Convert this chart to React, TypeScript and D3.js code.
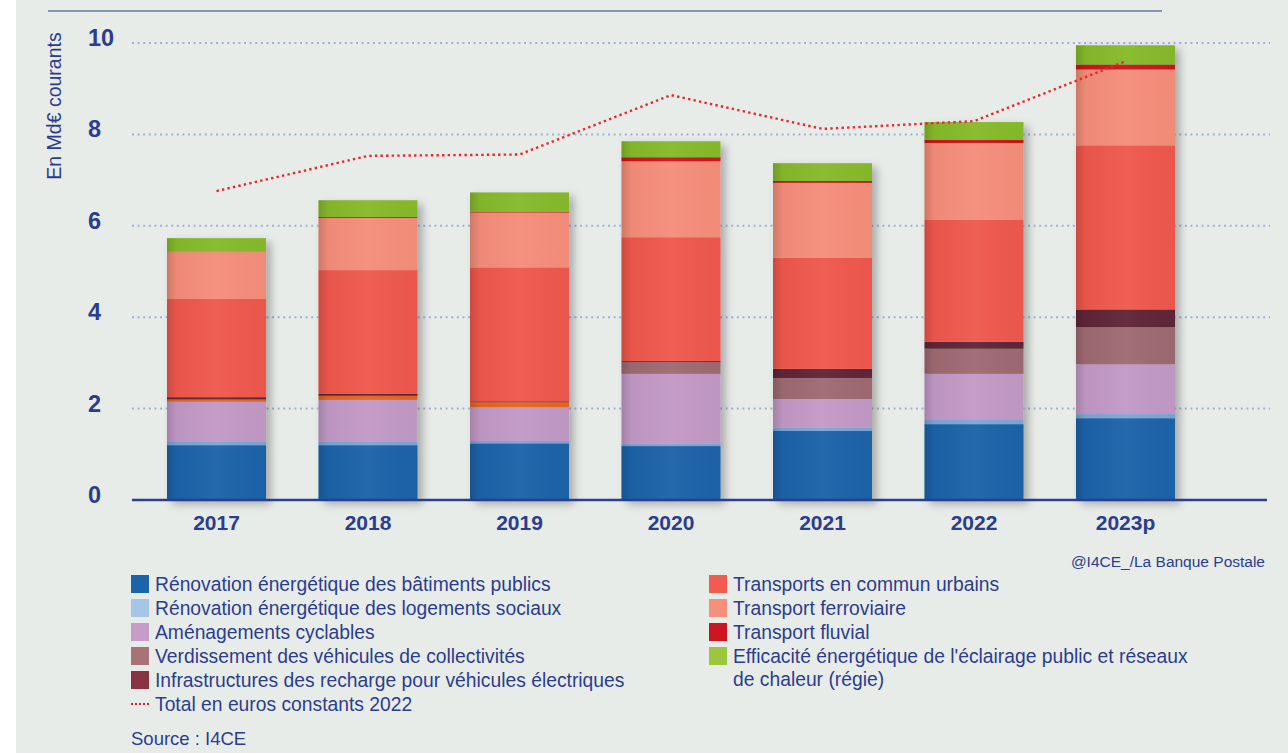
import React from 'react';
import * as d3 from 'd3';

const years = ['2017', '2018', '2019', '2020', '2021', '2022', '2023p'];
const batiments = [1.2, 1.2, 1.24, 1.18, 1.51, 1.66, 1.79];
const logements = [0.07, 0.07, 0.05, 0.05, 0.07, 0.09, 0.09];
const cyclables = [0.88, 0.92, 0.74, 1.53, 0.63, 1.01, 1.09];
const verdissement = [0, 0, 0, 0.26, 0.46, 0.55, 0.81];
const autre = [0.05, 0.09, 0.11, 0, 0, 0, 0];
const recharge = [0.05, 0.04, 0.02, 0.02, 0.2, 0.15, 0.39];
const urbains = [2.15, 2.71, 2.93, 2.71, 2.43, 2.67, 3.59];
const ferroviaire = [1.03, 1.14, 1.2, 1.66, 1.64, 1.68, 1.66];
const fluvial = [0, 0.02, 0.02, 0.09, 0.04, 0.07, 0.11];
const eclairage = [0.3, 0.37, 0.42, 0.35, 0.39, 0.39, 0.42];
const totalConstant = [6.76, 7.53, 7.56, 8.86, 8.12, 8.29, 9.6];
const yTicks = [0, 2, 4, 6, 8, 10];

const series = [
  { key: 'bat', values: batiments, color: '#1b64a9', legend: '#1b64a9' },
  { key: 'log', values: logements, color: '#7aa6d8', legend: '#a6c5e7' },
  { key: 'cyc', values: cyclables, color: '#c299c6', legend: '#c79cc9' },
  { key: 'ver', values: verdissement, color: '#9f6a72', legend: '#a87276' },
  { key: 'aut', values: autre, color: '#e8651f', legend: '#e8651f' },
  { key: 'rec', values: recharge, color: '#5e2838', legend: '#8a3343' },
  { key: 'urb', values: urbains, color: '#ef594e', legend: '#f25c50' },
  { key: 'fer', values: ferroviaire, color: '#f58e7a', legend: '#f7907b' },
  { key: 'flu', values: fluvial, color: '#c9161e', legend: '#cc1723' },
  { key: 'ecl', values: eclairage, color: '#86ba2c', legend: '#9cc63b' },
];

const leftLegend = [
  { label: 'Rénovation énergétique des bâtiments publics', s: 0 },
  { label: 'Rénovation énergétique des logements sociaux', s: 1 },
  { label: 'Aménagements cyclables', s: 2 },
  { label: 'Verdissement des véhicules de collectivités', s: 3 },
  { label: 'Infrastructures des recharge pour véhicules électriques', s: 5 },
];
const rightLegend = [
  { label: ['Transports en commun urbains'], s: 6 },
  { label: ['Transport ferroviaire'], s: 7 },
  { label: ['Transport fluvial'], s: 8 },
  { label: ["Efficacité énergétique de l'éclairage public et réseaux", 'de chaleur (régie)'], s: 9 },
];

const W = 1288;
const H = 753;
const NAVY = '#2b3d8f';
const FONT = '"Liberation Sans", Arial, Helvetica, sans-serif';
const LFS = 19.3;

export default function App() {
  const x = d3.scaleBand<string>().domain(years).range([140.8, 1201.2]).paddingInner(0.3465).paddingOuter(0.173);
  const y = d3.scaleLinear().domain([0, 10]).range([500, 43]);

  const table = years.map((yr, i) => {
    const row: any = { year: yr };
    series.forEach((s) => (row[s.key] = s.values[i]));
    return row;
  });
  const stacked = d3.stack().keys(series.map((s) => s.key))(table);

  const line = d3
    .line<number>()
    .x((_, i) => (x(years[i]) as number) + x.bandwidth() / 2)
    .y((d) => y(d))
    .curve(d3.curveLinear);

  return (
    <svg width={W} height={H} style={{ position: 'absolute', left: 0, top: 0 }} fontFamily={FONT}>
      <defs>
        <filter id="shadow" x="-20%" y="-10%" width="150%" height="130%">
          <feDropShadow dx="5" dy="4" stdDeviation="4" floodColor="#000" floodOpacity="0.28" />
        </filter>
        <linearGradient id="shadeH" x1="0" x2="1" y1="0" y2="0">
          <stop offset="0" stopColor="#000" stopOpacity="0.16" />
          <stop offset="0.1" stopColor="#000" stopOpacity="0.03" />
          <stop offset="0.5" stopColor="#fff" stopOpacity="0.04" />
          <stop offset="1" stopColor="#000" stopOpacity="0.02" />
        </linearGradient>
      </defs>
      <rect x={0} y={0} width={W} height={H} fill="#ffffff" />
      <rect x={16} y={0} width={W - 16} height={H} fill="#e8ece9" />
      <line x1={48} x2={1162} y1={11} y2={11} stroke={NAVY} strokeWidth={1.2} />

      {yTicks.filter((t) => t > 0).map((t) => (
        <line key={t} x1={132} x2={1270} y1={y(t)} y2={y(t)} stroke="#9fb0dd" strokeWidth={2} strokeDasharray="2 3.6" />
      ))}

      {yTicks.map((t) => (
        <text key={t} x={88} y={y(t) + 3} fontSize={23.5} fontWeight="bold" fill={NAVY}>
          {t}
        </text>
      ))}
      <text
        transform={`translate(61,106) rotate(-90)`}
        textAnchor="middle"
        fontSize={19.5}
        fill={NAVY}
      >
        En Md€ courants
      </text>

      {years.map((yr, i) => (
        <g key={yr} filter="url(#shadow)">
          {stacked.map((layer, li) => {
            const d = layer[i];
            const h = y(d[0]) - y(d[1]);
            if (h <= 0) return null;
            return (
              <rect
                key={li}
                x={x(yr)}
                y={y(d[1])}
                width={x.bandwidth()}
                height={h}
                fill={series[li].color}
              />
            );
          })}
        </g>
      ))}
      {years.map((yr, i) => {
        const top = stacked[stacked.length - 1][i][1];
        return (
          <rect key={yr} x={x(yr)} y={y(top)} width={x.bandwidth()} height={y(0) - y(top)} fill="url(#shadeH)" />
        );
      })}

      <line x1={132} x2={1267} y1={500} y2={500} stroke={NAVY} strokeWidth={2.5} />

      <path d={line(totalConstant) || ''} fill="none" stroke="#ea2630" strokeWidth={2.4} strokeDasharray="2.4 3.2" />

      {years.map((yr) => (
        <text
          key={yr}
          x={(x(yr) as number) + x.bandwidth() / 2}
          y={530}
          textAnchor="middle"
          fontSize={21}
          fontWeight="bold"
          fill={NAVY}
        >
          {yr}
        </text>
      ))}

      <text x={1265} y={567} textAnchor="end" fontSize={15.5} fill={NAVY}>
        @I4CE_/La Banque Postale
      </text>

      {leftLegend.map((l, i) => (
        <g key={l.label} transform={`translate(131,${575 + i * 24})`}>
          <rect x={0} y={0} width={18} height={18} fill={series[l.s].legend} />
          <text x={24} y={16} fontSize={LFS} fill={NAVY}>
            {l.label}
          </text>
        </g>
      ))}
      <g transform={`translate(131,${575 + 5 * 24})`}>
        <line x1={0} x2={18} y1={9} y2={9} stroke="#d8222c" strokeWidth={2} strokeDasharray="2 2" />
        <text x={24} y={16} fontSize={LFS} fill={NAVY}>
          Total en euros constants 2022
        </text>
      </g>
      <text x={131} y={745} fontSize={18.5} fill={NAVY}>
        Source : I4CE
      </text>

      {rightLegend.map((l, i) => (
        <g key={l.label[0]} transform={`translate(709,${575 + i * 24})`}>
          <rect x={0} y={0} width={18} height={18} fill={series[l.s].legend} />
          {l.label.map((t, j) => (
            <text key={j} x={24} y={16 + j * 23} fontSize={LFS} fill={NAVY}>
              {t}
            </text>
          ))}
        </g>
      ))}
    </svg>
  );
}
